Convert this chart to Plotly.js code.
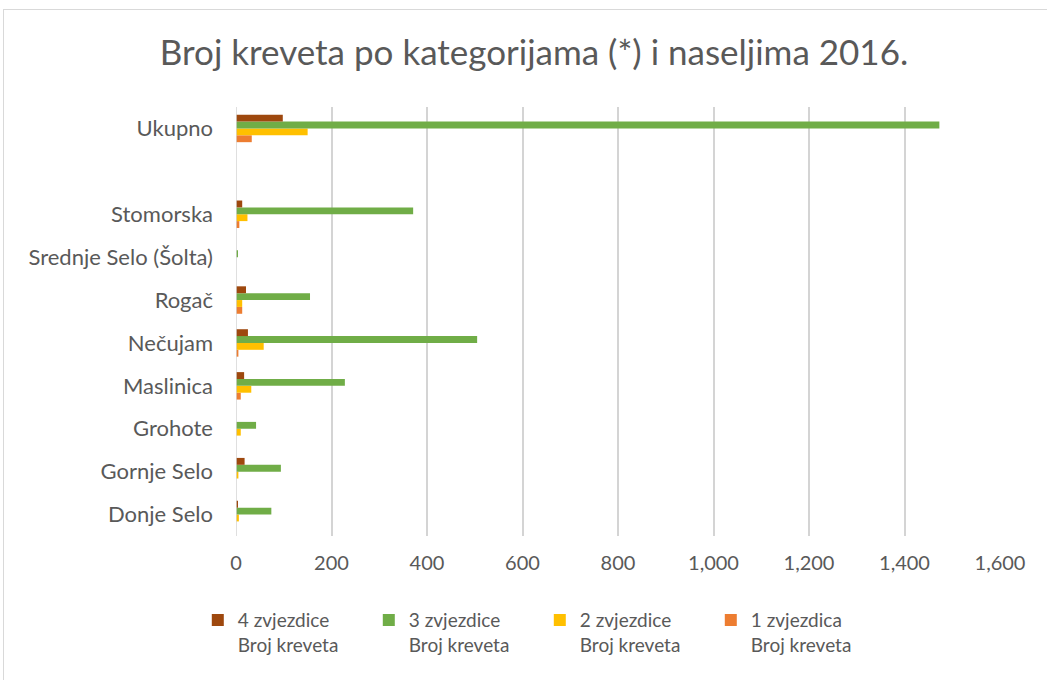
<!DOCTYPE html>
<html>
<head>
<meta charset="utf-8">
<script src="https://cdn.plot.ly/plotly-3.0.1.min.js"></script>
<style>
  html, body { margin: 0; padding: 0; background: #ffffff; }
  #wrap { position: relative; width: 1047px; height: 680px; overflow: hidden; }
  #chart { position: absolute; left: 0; top: 0; width: 1047px; height: 680px; }
  #frame { position: absolute; left: 3px; top: 9px; width: 1060px; height: 700px; border: 1px solid #d9d9d9; pointer-events: none; }
</style>
</head>
<body>
<div id="wrap">
  <div id="chart"></div>
  <div id="frame"></div>
</div>
<script>
// Categories, bottom to top (blank row separates "Ukupno")
const categories = ["Donje Selo", "Gornje Selo", "Grohote", "Maslinica", "Nečujam", "Rogač", "Srednje Selo (Šolta)", "Stomorska", " ", "Ukupno"];

const seriesNames = ["1 zvjezdica<br>Broj kreveta", "2 zvjezdice<br>Broj kreveta", "3 zvjezdice<br>Broj kreveta", "4 zvjezdice<br>Broj kreveta"];

const star1 = [0, 0, 0, 10, 5, 13, 0, 7, null, 33];
const star2 = [6, 5, 10, 32, 58, 13, 0, 24, null, 150];
const star3 = [74, 94, 42, 228, 505, 155, 3, 371, null, 1473];
const star4 = [3, 18, 0, 17, 25, 21, 0, 13, null, 98];

const xTickVals = [0, 200, 400, 600, 800, 1000, 1200, 1400, 1600];

const colors = ["#ed7d31", "#ffc000", "#70ad47", "#9e480e"];
const seriesValues = [star1, star2, star3, star4];

const traces = seriesValues.map((vals, i) => ({
  type: "bar",
  orientation: "h",
  name: seriesNames[i],
  y: categories,
  x: vals,
  marker: { color: colors[i], line: { width: 0 } },
  hoverinfo: "x+y+name"
}));

const font = "Lato, 'Open Sans', sans-serif";

const layout = {
  width: 1047,
  height: 680,
  margin: { l: 236, r: 47, t: 107, b: 144 },
  paper_bgcolor: "#ffffff",
  plot_bgcolor: "#ffffff",
  barmode: "group",
  bargap: 0.36,
  bargroupgap: 0,
  title: {
    text: "Broj kreveta po kategorijama (*) i naseljima 2016.",
    font: { family: font, size: 35, color: "#595959" },
    x: 534 / 1047, xanchor: "center",
    y: 1 - 53 / 680, yanchor: "middle"
  },
  xaxis: {
    range: [0, 1600],
    tickvals: xTickVals,
    tickformat: ",",
    showgrid: true,
    gridcolor: "#d4d4d4",
    gridwidth: 1.5,
    zeroline: false,
    showline: false,
    ticks: "",
    ticklabelstandoff: 13,
    tickfont: { family: font, size: 20, color: "#595959" },
    fixedrange: true
  },
  yaxis: {
    type: "category",
    categoryorder: "array",
    categoryarray: categories,
    showgrid: false,
    zeroline: false,
    showline: false,
    ticks: "",
    ticklabelstandoff: 22,
    tickfont: { family: font, size: 22, color: "#595959" },
    fixedrange: true
  },
  shapes: [{
    type: "line", xref: "x", yref: "paper",
    x0: 0, x1: 0, y0: 0, y1: 1,
    line: { color: "#d4d4d4", width: 1.5 }
  }],
  showlegend: true,
  legend: {
    orientation: "h",
    traceorder: "reversed",
    x: -0.05, xanchor: "left",
    y: -0.152, yanchor: "top",
    valign: "top",
    entrywidth: 126,
    entrywidthmode: "pixels",
    font: { family: font, size: 19, color: "#595959" },
    bgcolor: "rgba(0,0,0,0)"
  },
  hovermode: "closest"
};

Plotly.newPlot("chart", traces, layout, { displayModeBar: false, responsive: false });
</script>
</body>
</html>
